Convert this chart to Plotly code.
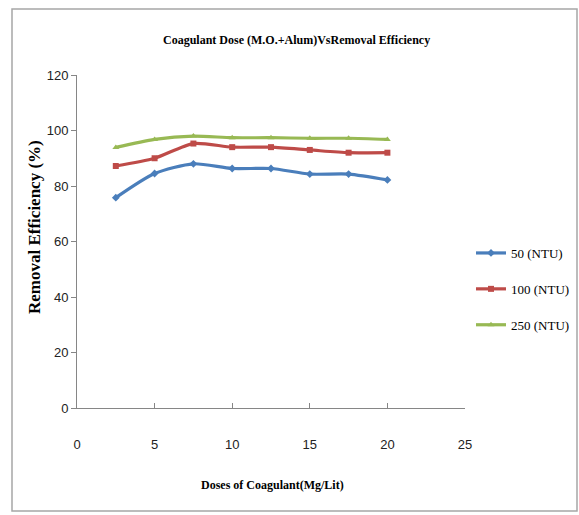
import plotly.graph_objects as go

doses = [2.5, 5, 7.5, 10, 12.5, 15, 17.5, 20]
ntu50 = [75.8, 84.5, 88.0, 86.3, 86.3, 84.3, 84.3, 82.2]
ntu100 = [87.2, 90.0, 95.3, 94.0, 94.0, 93.0, 92.0, 92.0]
ntu250 = [93.9, 96.8, 98.0, 97.4, 97.4, 97.2, 97.2, 96.8]
series_names = ["50 (NTU)", "100 (NTU)", "250 (NTU)"]
x_ticks = [0, 5, 10, 15, 20, 25]
y_ticks = [0, 20, 40, 60, 80, 100, 120]

colors = ["#4A7EBB", "#BE4B48", "#98B954"]
symbols = ["diamond", "square", "triangle-up"]

W, H = 579, 515
L, R, T, B = 77, 114, 75, 107
pw, ph = W - L - R, H - T - B

def px_x(p):
    return (p - L) / pw

def px_y(p):
    return (H - B - p) / ph

fig = go.Figure()
for i, (name, vals) in enumerate(zip(series_names, [ntu50, ntu100, ntu250])):
    fig.add_trace(go.Scatter(
        x=doses, y=vals, name=name, mode="lines+markers",
        line=dict(color=colors[i], width=3.2, shape="spline", smoothing=0.7),
        marker=dict(color=colors[i], symbol=symbols[i], size=6),
        legendgroup=name,
    ))

serif = "Liberation Serif, Times New Roman, serif"
narrow = "Liberation Sans Narrow, Liberation Sans, Arial Narrow, sans-serif"

fig.update_layout(
    width=W, height=H,
    margin=dict(l=L, r=R, t=T, b=B, autoexpand=False),
    paper_bgcolor="white", plot_bgcolor="white",
    showlegend=True,
    legend=dict(
        x=px_x(471), y=px_y(289), xanchor="left", yanchor="middle",
        font=dict(family=serif, size=13, color="#000000"),
        traceorder="grouped", tracegroupgap=16,
        itemwidth=30, bgcolor="rgba(0,0,0,0)",
    ),
    xaxis=dict(
        range=[0, 25], tickvals=x_ticks, ticks="inside", ticklen=5,
        tickcolor="#868686", showline=True, linecolor="#868686", linewidth=1,
        showgrid=False, zeroline=False, ticklabelstandoff=24,
        tickfont=dict(family=narrow, size=13, color="#222222"),
    ),
    yaxis=dict(
        range=[0, 120], tickvals=y_ticks, ticks="outside", ticklen=5,
        tickcolor="#868686", showline=True, linecolor="#868686", linewidth=1,
        showgrid=False, zeroline=False,
        tickfont=dict(family=narrow, size=13, color="#222222"),
    ),
    annotations=[
        dict(text="<b>Coagulant Dose (M.O.+Alum)VsRemoval Efficiency</b>",
             xref="paper", yref="paper", x=px_x(296), y=px_y(40),
             showarrow=False, font=dict(family=serif, size=12, color="#000"),
             xanchor="center", yanchor="middle"),
        dict(text="<b>Doses of Coagulant(Mg/Lit)</b>",
             xref="paper", yref="paper", x=px_x(272), y=px_y(485),
             showarrow=False, font=dict(family=serif, size=12, color="#000"),
             xanchor="center", yanchor="middle"),
        dict(text="<b>Removal Efficiency (%)</b>",
             xref="paper", yref="paper", x=px_x(34), y=px_y(227),
             showarrow=False, textangle=-90,
             font=dict(family=serif, size=17, color="#000"),
             xanchor="center", yanchor="middle"),
    ],
    shapes=[
        dict(type="rect", xref="paper", yref="paper",
             x0=px_x(12), x1=px_x(577), y0=px_y(511), y1=px_y(9),
             line=dict(color="#A6A6A6", width=1.5), fillcolor="rgba(0,0,0,0)"),
    ],
)

fig.write_html("out.html")
